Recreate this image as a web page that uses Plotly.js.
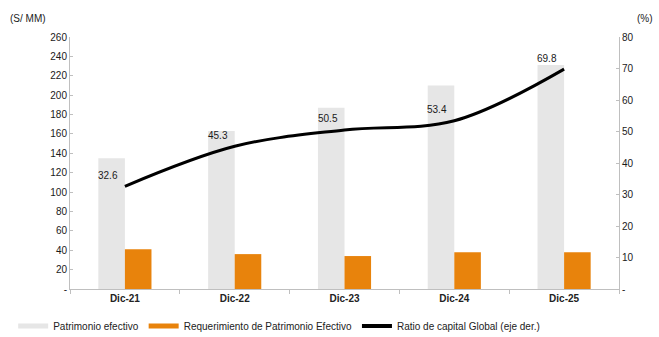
<!DOCTYPE html>
<html>
<head>
<meta charset="utf-8">
<script src="https://cdn.plot.ly/plotly-3.0.1.min.js"></script>
<style>html,body{margin:0;padding:0;background:#fff;}#chart{width:659px;height:337px;}</style>
</head>
<body>
<div id="chart"></div>
<script>
const categories = ["Dic-21", "Dic-22", "Dic-23", "Dic-24", "Dic-25"];
const patrimonioEfectivo = [135, 163, 187, 210, 231];
const requerimiento = [41, 36, 34, 38, 38];
const ratioCapital = [32.6, 45.3, 50.5, 53.4, 69.8];
const leftTickVals = [0, 20, 40, 60, 80, 100, 120, 140, 160, 180, 200, 220, 240, 260];
const leftTickText = ["-", "20", "40", "60", "80", "100", "120", "140", "160", "180", "200", "220", "240", "260"];
const rightTickVals = [0, 10, 20, 30, 40, 50, 60, 70, 80];
const rightTickText = ["-", "10", "20", "30", "40", "50", "60", "70", "80"];

const FONT = "Liberation Sans, Arial, sans-serif";
const GRAY = "#e6e6e6", ORANGE = "#e8830c", BLACK = "#000000";

const traces = [
  {type: "bar", x: categories, y: patrimonioEfectivo, name: "Patrimonio efectivo",
   marker: {color: GRAY}, showlegend: false, hoverinfo: "skip"},
  {type: "bar", x: categories, y: requerimiento, name: "Requerimiento de Patrimonio Efectivo",
   marker: {color: ORANGE}, showlegend: false, hoverinfo: "skip"},
  {type: "scatter", mode: "lines", x: categories, y: ratioCapital, yaxis: "y2",
   name: "Ratio de capital Global (eje der.)", line: {color: BLACK, width: 3, shape: "spline", smoothing: 1},
   showlegend: false},
  // legend entries
  {type: "scatter", mode: "lines", x: [null], y: [null], name: "Patrimonio efectivo",
   line: {color: GRAY, width: 5}},
  {type: "scatter", mode: "lines", x: [null], y: [null], name: "Requerimiento de Patrimonio Efectivo",
   line: {color: ORANGE, width: 5}},
  {type: "scatter", mode: "lines", x: [null], y: [null], name: "Ratio de capital Global (eje der.)",
   line: {color: BLACK, width: 4}}
];

const labelAnnotations = categories.map((c, i) => ({
  x: c, y: ratioCapital[i], xref: "x", yref: "y2", text: ratioCapital[i].toFixed(1),
  showarrow: false, xanchor: "center", yanchor: "middle", xshift: -17, yshift: 11,
  font: {family: FONT, size: 10, color: "#1a1a1a"}
}));

const layout = {
  width: 659, height: 337,
  margin: {l: 70, r: 40, t: 37, b: 48},
  paper_bgcolor: "#fff", plot_bgcolor: "#fff",
  font: {family: FONT, size: 10, color: "#222"},
  barmode: "group", bargap: 0.516, bargroupgap: 0,
  xaxis: {type: "category", showline: true, linecolor: "#bfbfbf", linewidth: 1,
    ticks: "outside", tickson: "boundaries", ticklen: 4, tickcolor: "#bfbfbf",
    tickfont: {family: FONT, size: 10, color: "#222", weight: "bold"}, showgrid: false, zeroline: false, fixedrange: true},
  yaxis: {range: [0, 260], tickvals: leftTickVals, ticktext: leftTickText, showline: true,
    linecolor: "#bfbfbf", ticks: "inside", ticklen: 3, tickcolor: "#bfbfbf", showgrid: false, zeroline: false,
    tickfont: {family: FONT, size: 10, color: "#1a1a1a"}},
  yaxis2: {range: [0, 80], tickvals: rightTickVals, ticktext: rightTickText, overlaying: "y", side: "right",
    showline: true, linecolor: "#bfbfbf", ticks: "inside", ticklen: 3, tickcolor: "#bfbfbf", showgrid: false, zeroline: false,
    tickfont: {family: FONT, size: 10, color: "#1a1a1a"}},
  legend: {orientation: "h", x: 0.02, xref: "container", y: 0.033, yref: "container", yanchor: "middle",
    font: {family: FONT, size: 10, color: "#222"}, itemwidth: 30, tracegroupgap: 0},
  annotations: [
    {text: "(S/ MM)", xref: "paper", yref: "paper", x: -0.113, y: 1.075, xanchor: "left", yanchor: "middle",
     showarrow: false, font: {family: FONT, size: 10, color: "#222"}},
    {text: "(%)", xref: "paper", yref: "paper", x: 1.03, y: 1.075, xanchor: "left", yanchor: "middle",
     showarrow: false, font: {family: FONT, size: 10, color: "#222"}}
  ].concat(labelAnnotations)
};

Plotly.newPlot("chart", traces, layout, {displayModeBar: false, staticPlot: true});
</script>
</body>
</html>
